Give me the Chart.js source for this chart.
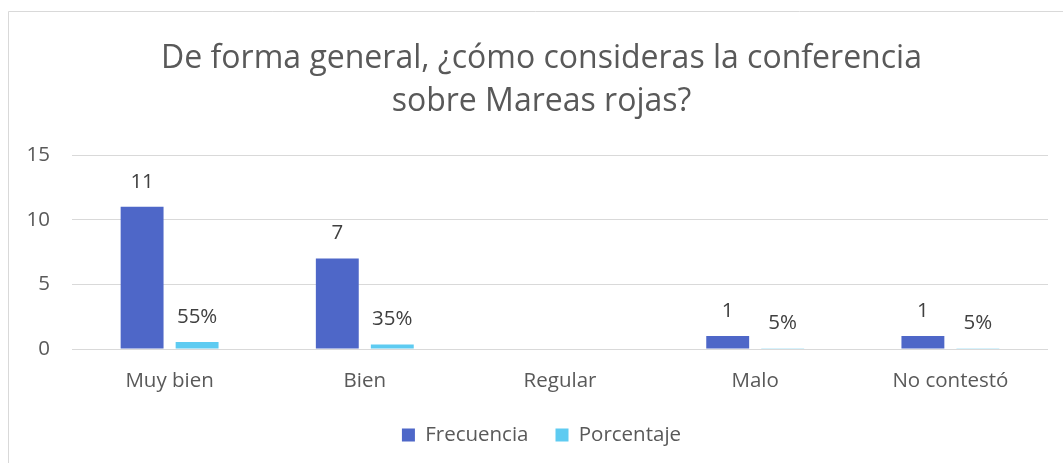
<!DOCTYPE html>
<html>
<head>
<meta charset="utf-8">
<script src="https://cdn.jsdelivr.net/npm/chart.js@4.4.1/dist/chart.umd.min.js"></script>
<style>
  html, body { margin: 0; padding: 0; background: #fff; }
  #wrap { width: 1063px; height: 463px; }
</style>
</head>
<body>
<div id="wrap"><canvas id="c" width="1063" height="463"></canvas></div>
<script>
// Survey chart: "De forma general, ¿cómo consideras la conferencia sobre Mareas rojas?"

const categories = ["Muy bien", "Bien", "Regular", "Malo", "No contestó"];
const frecuencia = [11, 7, 0, 1, 1];
const porcentaje = [0.55, 0.35, 0, 0.05, 0.05];
const yTicks = [0, 5, 10, 15];

const TEXT = "#595959";
const GRID = "#d9d9d9";
const FONT = "'Open Sans', 'Liberation Sans', sans-serif";
const FS = 20.5;

// Excel-like frame: thin line on top and left edge
const framePlugin = {
  id: "frame",
  beforeDraw(chart) {
    const ctx = chart.ctx;
    ctx.save();
    ctx.fillStyle = "#fff";
    ctx.fillRect(0, 0, chart.width, chart.height);
    ctx.strokeStyle = GRID;
    ctx.lineWidth = 1;
    ctx.beginPath();
    ctx.moveTo(8.5, chart.height);
    ctx.lineTo(8.5, 11.5);
    ctx.lineTo(chart.width, 11.5);
    ctx.stroke();
    ctx.restore();
  },
};

// value labels above the bars, skipped for zero values
const labelPlugin = {
  id: "barLabels",
  afterDatasetsDraw(chart) {
    const ctx = chart.ctx;
    ctx.save();
    ctx.font = FS + "px " + FONT;
    ctx.fillStyle = "#404040";
    ctx.textAlign = "center";
    ctx.textBaseline = "middle";
    chart.data.datasets.forEach((ds, di) => {
      chart.getDatasetMeta(di).data.forEach((el, i) => {
        const v = ds.data[i];
        if (!v) return;
        const txt = di === 1 ? Math.round(v * 100) + "%" : String(v);
        ctx.fillText(txt, el.x, el.y - 25);
      });
    });
    ctx.restore();
  },
};

new Chart(document.getElementById("c"), {
  type: "bar",
  data: {
    labels: categories,
    datasets: [
      { label: "Frecuencia", data: frecuencia, backgroundColor: "#4e67c8" },
      { label: "Porcentaje", data: porcentaje, backgroundColor: "#5ecbf1" },
    ],
  },
  plugins: [framePlugin, labelPlugin],
  options: {
    responsive: false,
    animation: false,
    categoryPercentage: 0.5635,
    barPercentage: 0.78,
    layout: { padding: { left: 20, right: 0, top: 0, bottom: 7.75 } },
    plugins: {
      tooltip: { enabled: false },
      title: {
        display: true,
        text: ["De forma general, ¿cómo consideras la conferencia", "sobre Mareas rojas?"],
        color: TEXT,
        font: { family: FONT, size: 32, weight: "normal", lineHeight: 1.344 },
        padding: { top: 37.5, bottom: 31.5 },
      },
      legend: {
        position: "bottom",
        labels: {
          color: TEXT,
          font: { family: FONT, size: FS },
          boxWidth: 13,
          boxHeight: 13,
          padding: 27,
        },
      },
    },
    scales: {
      x: {
        grid: { display: false, drawTicks: false },
        border: { display: false },
        ticks: { color: TEXT, font: { family: FONT, size: FS }, padding: 20 },
        afterFit: (s) => { s.height = 48.75; },
      },
      y: {
        min: 0,
        max: 15,
        afterBuildTicks: (s) => { s.ticks = yTicks.map((v) => ({ value: v })); },
        grid: { color: GRID, drawTicks: false },
        border: { display: false },
        ticks: { color: TEXT, font: { family: FONT, size: FS }, padding: 22 },
        afterFit: (s) => { s.width = 52; },
      },
      yRight: {
        position: "right",
        display: true,
        grid: { display: false, drawTicks: false },
        border: { display: false },
        ticks: { display: false },
        afterFit: (s) => { s.width = 15; },
      },
    },
  },
});
</script>
</body>
</html>
